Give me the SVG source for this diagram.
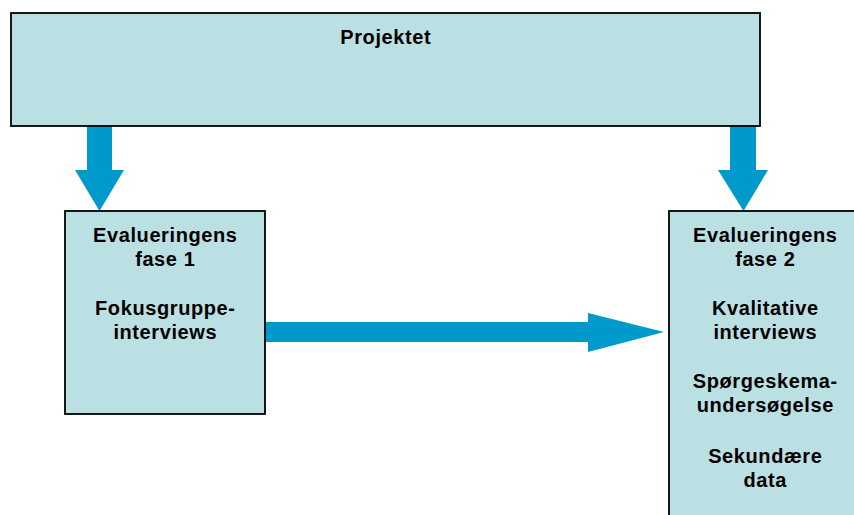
<svg xmlns="http://www.w3.org/2000/svg" width="854" height="515" viewBox="0 0 854 515">
<style>
.box{fill:#BBE0E3;stroke:#000;stroke-width:1.8}
.arr{fill:#0099CC}
text{font-family:"Liberation Sans",Arial,sans-serif;font-weight:bold;font-size:20px;letter-spacing:0.6px;fill:#000;text-anchor:middle}
</style>
<rect width="854" height="515" fill="#fff"/>
<g id="connectors">
<polygon class="arr" points="87,126 112,126 112,170 124,170 99.5,211 75,170 87,170"/>
<polygon class="arr" points="730,126 756,126 756,170 768,170 743.5,211 718,170 730,170"/>
<polygon class="arr" points="265,322 588,322 588,313 664,332 588,352 588,342 265,342"/>
</g>
<g id="projektet">
<rect class="box" x="11" y="13" width="749" height="113"/>
<text x="385.8" y="43.5">Projektet</text>
</g>
<g id="fase1">
<rect class="box" x="65" y="211" width="200" height="203"/>
<text x="165.3" y="241.7">Evalueringens</text>
<text x="165.3" y="265.7">fase 1</text>
<text x="165.3" y="315">Fokusgruppe-</text>
<text x="165.3" y="339">interviews</text>
</g>
<g id="fase2">
<rect class="box" x="669" y="211" width="193" height="312"/>
<text x="765.3" y="241.7">Evalueringens</text>
<text x="765.3" y="265.7">fase 2</text>
<text x="765.3" y="315">Kvalitative</text>
<text x="765.3" y="339">interviews</text>
<text x="765.3" y="388">Spørgeskema-</text>
<text x="765.3" y="412">undersøgelse</text>
<text x="765.3" y="463">Sekundære</text>
<text x="765.3" y="486.7">data</text>
</g>
</svg>
